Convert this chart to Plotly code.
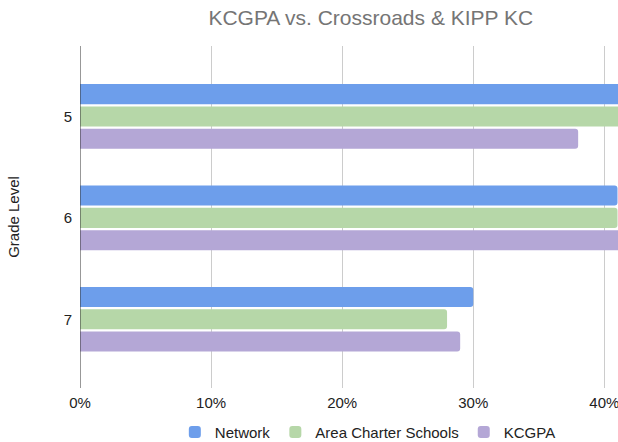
import plotly.graph_objects as go

grades = ["5", "6", "7"]
network = [0.45, 0.41, 0.30]
area_charter = [0.44, 0.41, 0.28]
kcgpa = [0.38, 0.43, 0.29]
x_ticks = [0, 0.1, 0.2, 0.3, 0.4]
x_tick_labels = ["0%", "10%", "20%", "30%", "40%"]

FONT = "Liberation Sans, Arial, sans-serif"

fig = go.Figure()
for name, vals, color in [
    ("Network", network, "#6d9eeb"),
    ("Area Charter Schools", area_charter, "#b6d7a8"),
    ("KCGPA", kcgpa, "#b4a7d6"),
]:
    fig.add_trace(go.Bar(
        y=grades, x=vals, name=name, orientation="h",
        marker=dict(color=color, cornerradius=3, line=dict(width=0)),
        hoverinfo="skip",
    ))

fig.update_layout(
    width=618, height=442,
    margin=dict(l=80, r=0, t=46, b=54),
    paper_bgcolor="white", plot_bgcolor="white",
    barmode="group", bargap=0.34, bargroupgap=0.1,
    font=dict(family=FONT, size=15, color="#222222"),
    title=dict(text="KCGPA vs. Crossroads & KIPP KC", xref="container", x=0.6,
               xanchor="center", y=0.959, yanchor="middle",
               font=dict(family=FONT, size=21, color="#757575")),
    legend=dict(orientation="h", xref="paper", x=0.535, xanchor="center",
                yref="container", y=0.022, yanchor="middle",
                font=dict(size=15, color="#222222"), itemwidth=30),
    xaxis=dict(range=[0, 0.4104], tickvals=x_ticks, ticktext=x_tick_labels,
               showgrid=True, gridcolor="#cccccc", gridwidth=1, zeroline=False,
               showline=False, ticks="", ticklabelstandoff=4, automargin=False,
               ticklabeloverflow="allow",
               tickfont=dict(size=15, color="#222222")),
    yaxis=dict(type="category", range=[2.678, -0.695], showgrid=False,
               zeroline=False, showline=False, ticks="", ticklabelstandoff=7,
               automargin=False,
               title=dict(text="Grade Level", standoff=40,
                          font=dict(size=15, color="#222222")),
               tickfont=dict(size=15, color="#222222")),
    shapes=[dict(type="line", xref="x", yref="paper", x0=0, x1=0, y0=0, y1=1,
                 line=dict(color="#333333", width=1))],
)

fig.write_html("out.html", config={"displayModeBar": False},
               post_script="document.body.style.margin='0';")
